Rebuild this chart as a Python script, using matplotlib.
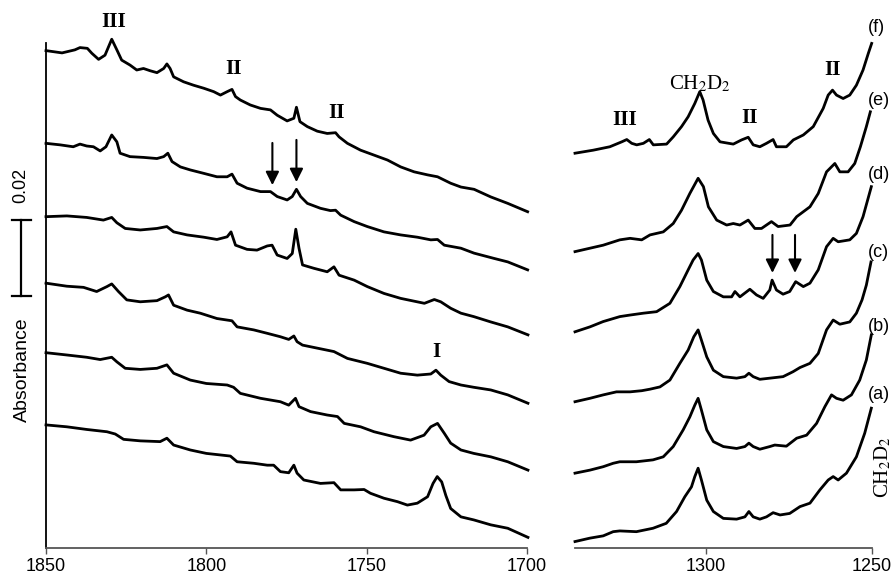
import matplotlib.pyplot as plt
import matplotlib.transforms as mtransforms

# === Config ===
plt.rcParams['font.family'] = ['Liberation Sans', 'DejaVu Sans']
plt.rcParams['mathtext.fontset'] = 'stix'
SERIF = ['Liberation Serif', 'DejaVu Serif']
LW = 2.0

# === Data (absorbance in units of 0.001, curves already stacked) ===
# left panel, 1850-1700 cm-1
lw_f = [1850, 1845, 1841, 1839.4, 1837.1, 1835.7, 1833.6, 1831.6, 1829.5, 1827.9, 1826.4, 1823.8, 1821.7,
        1819.6, 1817.5, 1815.4, 1813.3, 1812.3, 1811.3, 1810.2, 1807.1, 1804, 1800.8, 1797.7, 1795.6,
        1793.5, 1792, 1790.9, 1789.4, 1786.3, 1783.1, 1780, 1777.9, 1774.8, 1772.7, 1771.9, 1770.8,
        1768.5, 1765.4, 1762.3, 1759.7, 1758.6, 1756, 1751.9, 1747.7, 1743.5, 1739.4, 1735.2, 1731,
        1727.9, 1723.8, 1720.6, 1716.5, 1711.3, 1706, 1699.8]
la_f = [130.9, 130.3, 131.1, 131.7, 131.5, 130.2, 128.6, 129.7, 133.9, 131.1, 128.4, 127.1, 125.8,
        126.2, 125.6, 125.1, 126.2, 127.4, 126.2, 124.0, 122.7, 121.8, 121.0, 120.1, 119.2,
        120.1, 120.7, 118.8, 117.9, 116.6, 115.7, 115.3, 113.9, 112.4, 113.1, 116.0, 112.2,
        110.9, 109.7, 109.1, 109.3, 108.2, 106.5, 104.7, 103.4, 102.1, 100.3, 99.0, 98.2,
        97.7, 96.0, 95.0, 94.4, 92.4, 90.7, 88.5]

lw_e = [1850, 1845.6, 1841.5, 1839.4, 1837.3, 1835.2, 1833.1, 1831.3, 1829.5, 1827.9, 1826.9, 1823.8,
        1819.6, 1815.4, 1813.3, 1812, 1810.7, 1808.1, 1805, 1800.8, 1796.7, 1793.5, 1792, 1790.4,
        1787.3, 1783.1, 1780, 1777.9, 1774.8, 1773.2, 1771.9, 1770.6, 1768.5, 1764.4, 1761.3, 1759.7,
        1758.1, 1753.9, 1749.8, 1744.6, 1739.4, 1734.2, 1730, 1727.9, 1725.8, 1720.6, 1716.5, 1710.2,
        1706, 1699.8]
la_e = [106.5, 106.1, 105.6, 106.3, 105.8, 105.6, 104.5, 105.6, 108.7, 106.9, 103.9, 103.0,
        102.8, 102.5, 103.0, 103.9, 101.7, 100.3, 99.5, 98.6, 97.7, 97.7, 98.4, 96.0,
        94.7, 93.8, 93.8, 92.5, 91.6, 92.5, 94.4, 92.5, 90.7, 89.4, 88.8, 88.9,
        87.6, 85.9, 84.6, 83.2, 82.4, 81.8, 81.1, 81.2, 79.7, 78.9, 77.6, 76.2,
        75.3, 73.2]

lw_d = [1850, 1843.5, 1837.3, 1832.1, 1829.5, 1827.9, 1825.3, 1820.6, 1815.4, 1812.3, 1810.2, 1806,
        1800.8, 1796.7, 1793.5, 1792.3, 1790.9, 1787.3, 1784.2, 1781, 1779.5, 1777.9, 1774.8, 1773.2,
        1772.1, 1771.1, 1770, 1766.4, 1762.3, 1760.2, 1758.6, 1753.9, 1749.8, 1744.6, 1739.4, 1732,
        1728.9, 1726.9, 1723.8, 1720.6, 1716.6, 1711.3, 1706, 1699.7]
la_d = [87.2, 87.4, 87.0, 86.3, 87.0, 85.6, 84.1, 83.7, 84.1, 84.6, 83.2, 82.4,
        81.8, 81.2, 81.9, 83.2, 79.7, 78.6, 78.4, 79.5, 79.7, 77.1, 76.2, 77.5,
        83.9, 78.9, 74.5, 73.6, 72.7, 74.0, 71.8, 70.5, 68.8, 67.0, 65.7, 64.4,
        65.4, 64.8, 63.1, 61.8, 60.9, 59.5, 58.2, 56.1]

lw_c = [1850, 1843.5, 1838.3, 1834.2, 1831, 1829.5, 1827.4, 1824.8, 1820.6, 1815.4, 1812.8, 1811.8,
        1810.2, 1806, 1801.9, 1796.7, 1792, 1790.4, 1785.2, 1781, 1776.9, 1774.3, 1772.7, 1771.7,
        1770, 1765.4, 1760.2, 1756, 1749.8, 1744.6, 1739.4, 1734.2, 1730, 1728.4, 1726.9, 1724.3,
        1720.6, 1716.6, 1711.3, 1706, 1699.7]
la_c = [69.7, 68.9, 68.6, 67.5, 68.8, 69.5, 67.5, 65.3, 64.8, 65.1, 66.1, 66.6,
        63.9, 62.6, 61.8, 60.4, 59.8, 58.2, 57.4, 56.5, 55.6, 54.9, 55.8, 54.3,
        53.4, 52.6, 51.7, 49.9, 48.6, 47.3, 46.0, 45.5, 45.8, 46.8, 45.5, 43.8,
        42.9, 42.3, 41.6, 40.3, 38.1]

lw_b = [1850, 1843.5, 1837.3, 1833.1, 1829.5, 1827.9, 1825.3, 1820.6, 1815.4, 1812.3, 1810.2, 1805,
        1800, 1793.5, 1791.5, 1789.4, 1783.1, 1776.9, 1774.3, 1772.2, 1771.1, 1767.5, 1762.3, 1759.1,
        1757, 1751.9, 1747.7, 1741.5, 1736.3, 1732.1, 1730, 1727.9, 1725.8, 1723.8, 1720.6, 1716.6,
        1711.3, 1706, 1699.7]
la_b = [51.4, 50.8, 50.2, 49.6, 50.2, 49.0, 47.3, 47.0, 47.3, 48.2, 46.0, 44.2,
        43.3, 42.9, 42.3, 40.7, 39.4, 38.5, 37.6, 39.4, 37.2, 35.9, 35.0, 34.6,
        32.8, 31.9, 30.6, 29.3, 28.4, 29.7, 31.9, 32.8, 30.2, 27.6, 25.8, 24.9,
        24.0, 22.7, 20.5]

lw_a = [1850, 1843.5, 1837.3, 1831, 1828.4, 1825.8, 1820.6, 1814.4, 1812.3, 1810.2, 1805, 1800,
        1792.5, 1790.4, 1785.2, 1781, 1779, 1776.9, 1774.3, 1772.7, 1771.7, 1769.6, 1764.4, 1760.2,
        1758.1, 1753.9, 1750.8, 1748.8, 1744.6, 1740.4, 1737.3, 1734.2, 1731, 1729.3, 1728, 1726.6,
        1725.3, 1723.8, 1720.6, 1716.6, 1711.3, 1706, 1699.7]
la_a = [32.4, 31.9, 31.2, 30.6, 30.0, 28.6, 28.2, 28.0, 28.9, 27.1, 25.8, 24.9,
        24.2, 22.7, 22.3, 21.8, 21.8, 20.1, 19.8, 21.8, 19.7, 17.9, 17.0, 17.2,
        15.3, 15.3, 15.4, 14.4, 13.1, 12.2, 11.3, 11.8, 13.5, 17.0, 18.8, 17.4,
        13.8, 10.4, 8.2, 7.4, 6.1, 5.2, 2.8]

# right panel, 1340-1250 cm-1
rw_f = [1339.5, 1334, 1329, 1325.4, 1323.9, 1322.4, 1320.9, 1318.9, 1317.1, 1315.9, 1311.9, 1309.9,
        1307.4, 1305.4, 1303.4, 1301.9, 1300.9, 1299.4, 1297.8, 1295.8, 1291.8, 1289.3, 1287.3, 1285.8,
        1283.8, 1281.8, 1279.8, 1278.8, 1275.8, 1273.7, 1270.7, 1267.7, 1264.7, 1263.2, 1261.9, 1260.7,
        1258.7, 1256.7, 1254.7, 1252.7, 1251.1, 1250.1]
ra_f = [103.9, 104.7, 105.6, 106.9, 107.5, 106.5, 106.1, 106.5, 107.5, 106.1, 106.3, 108.2,
        110.9, 113.5, 117.0, 120.1, 117.9, 112.6, 109.1, 106.9, 106.3, 107.4, 108.1, 106.1,
        105.6, 106.5, 107.5, 105.6, 105.6, 107.4, 108.7, 110.9, 115.7, 119.2, 120.5, 119.2,
        118.3, 119.2, 121.8, 125.8, 130.2, 132.8]

rw_e = [1339.5, 1335, 1331, 1326, 1322.9, 1319.4, 1316.9, 1312.9, 1309.9, 1307.4, 1304.9, 1302.4,
        1300.8, 1299.3, 1296.8, 1293.8, 1291.8, 1289.8, 1287.3, 1285.3, 1283.3, 1280.3, 1278.3, 1274.7,
        1272.7, 1268.7, 1266.2, 1263.7, 1261.2, 1259.7, 1257.2, 1255.2, 1253.5, 1251.7, 1250.5]
ra_e = [78.0, 78.9, 79.7, 81.1, 81.5, 81.1, 82.4, 83.2, 85.4, 88.9, 93.3, 97.3,
        95.1, 89.8, 86.3, 85.0, 85.4, 85.0, 86.3, 84.1, 84.1, 85.9, 84.6, 85.0,
        87.2, 89.8, 93.3, 99.0, 101.2, 99.0, 99.0, 101.2, 105.6, 110.9, 114.8]

rw_d = [1339.5, 1335, 1331, 1326, 1323, 1318.9, 1314.9, 1310.9, 1307.9, 1305.4, 1303.9, 1302.4,
        1301.4, 1299.8, 1297.8, 1294.8, 1292.3, 1291.3, 1289.8, 1286.8, 1284.8, 1282.8, 1280.8, 1280.1,
        1278.8, 1276.8, 1274.8, 1273.0, 1270.7, 1268.7, 1266.2, 1263.7, 1261.7, 1260.2, 1256.7, 1254.7,
        1252.7, 1250.2]
ra_d = [56.9, 58.2, 59.6, 60.9, 61.3, 61.8, 62.2, 64.4, 68.8, 73.2, 75.8, 77.5,
        75.8, 70.5, 67.5, 66.1, 66.1, 67.5, 66.1, 68.1, 66.6, 65.7, 67.9, 70.5,
        67.9, 66.8, 67.5, 70.1, 68.8, 69.7, 73.2, 79.3, 81.5, 80.6, 81.1, 82.8,
        87.2, 95.1]

rw_c = [1339.5, 1335, 1331, 1327, 1322.9, 1319.4, 1316.9, 1313.9, 1310.9, 1307.9, 1305.4, 1303.7,
        1302.4, 1301.4, 1299.8, 1297.8, 1294.8, 1290.8, 1288.3, 1287.1, 1285.8, 1283.8, 1280.8, 1276.8,
        1273.8, 1271.7, 1268.7, 1266.2, 1263.7, 1261.7, 1259.7, 1256.7, 1254.7, 1253, 1251.7, 1250.3]
ra_c = [38.5, 39.4, 40.3, 41.1, 41.1, 41.4, 41.8, 42.4, 44.2, 48.6, 52.1, 55.6,
        57.4, 54.7, 50.3, 46.8, 45.1, 44.7, 45.1, 46.0, 45.1, 44.4, 44.7, 45.1,
        46.4, 47.5, 48.6, 51.2, 57.4, 60.0, 58.9, 59.5, 61.8, 65.3, 69.2, 75.3]

rw_b = [1339.5, 1335, 1331, 1328, 1326, 1321, 1316, 1312.9, 1309.9, 1306.9, 1304.9, 1303.4,
        1302.4, 1301.4, 1299.8, 1297.8, 1294.8, 1290.8, 1288.3, 1287.1, 1285.8, 1283.8, 1280.8, 1279.3,
        1275.8, 1272.7, 1269.7, 1266.7, 1264.2, 1262.2, 1260.7, 1258.7, 1256.2, 1253.7, 1251.7, 1250.2]
ra_b = [19.7, 20.5, 21.4, 22.3, 22.7, 22.7, 23.2, 24.0, 26.7, 31.1, 34.5, 37.6,
        39.4, 36.3, 31.1, 28.0, 26.7, 26.2, 26.7, 27.6, 26.7, 26.0, 26.7, 27.1,
        26.8, 28.9, 29.7, 32.8, 37.2, 40.3, 39.4, 38.9, 40.3, 44.2, 49.5, 56.1]

rw_a = [1339.5, 1335, 1331, 1328, 1326, 1321, 1316, 1312, 1308.9, 1306.4, 1304.4, 1303.4,
        1302.4, 1301.4, 1299.8, 1297.8, 1294.8, 1290.8, 1288.3, 1287.1, 1285.8, 1283.8, 1281.8, 1279.8,
        1277.7, 1274.8, 1271.7, 1268.7, 1265.7, 1263.2, 1261.7, 1260.2, 1257.7, 1254.7, 1252.2, 1250.2]
ra_a = [1.7, 2.6, 3.2, 4.3, 4.5, 4.3, 5.2, 6.5, 9.6, 13.5, 16.1, 18.8,
        21.0, 17.9, 12.6, 9.6, 7.8, 7.6, 8.2, 9.6, 8.2, 7.6, 8.2, 9.3,
        8.7, 9.1, 10.9, 11.8, 15.3, 17.9, 18.8, 17.9, 19.7, 24.0, 30.2, 36.8]

left_curves = [(lw_f, la_f), (lw_e, la_e), (lw_d, la_d), (lw_c, la_c), (lw_b, la_b), (lw_a, la_a)]
right_curves = [(rw_f, ra_f), (rw_e, ra_e), (rw_d, ra_d), (rw_c, ra_c), (rw_b, ra_b), (rw_a, ra_a)]
curve_labels = ['(f)', '(e)', '(d)', '(c)', '(b)', '(a)']
label_y = [137.1, 117.9, 98.4, 77.9, 58.2, 40.5]
left_ticks = [1850, 1800, 1750, 1700]
right_ticks = [1300, 1250]

# === Figure ===
fig = plt.figure(figsize=(8.94, 5.73), dpi=100)
ax1 = fig.add_axes([0.05145, 0.0436, 0.53803, 0.9284])
ax2 = fig.add_axes([0.64318, 0.0436, 0.33221, 0.9284])

for wn, ab in left_curves:
    ax1.plot(wn, ab, color='black', lw=LW, solid_joinstyle='round', clip_on=False)
for wn, ab in right_curves:
    ax2.plot(wn, ab, color='black', lw=LW, solid_joinstyle='round', clip_on=False)

ax1.set_xlim(1850, 1700)
ax2.set_xlim(1339.5, 1250)
for ax in (ax1, ax2):
    ax.set_ylim(0, 140)
    ax.set_yticks([])
    ax.spines['top'].set_visible(False)
    ax.spines['right'].set_visible(False)
    ax.spines['bottom'].set_color('#555555')
    ax.spines['bottom'].set_linewidth(1.3)
    ax.tick_params(axis='x', direction='out', length=4, width=1.0, color='#555555',
                   labelsize=13, pad=3)
ax2.spines['left'].set_visible(False)
ax1.spines['left'].set_bounds(0, 132.9)
ax1.spines['left'].set_linewidth(1.3)
ax1.set_xticks(left_ticks)
ax2.set_xticks(right_ticks)

# === Scale bar and axis title ===
tr = mtransforms.blended_transform_factory(ax1.transAxes, ax1.transData)
bar_lo, bar_hi = 66.3, 86.3  # 0.02 absorbance
ax1.plot([-0.052, -0.052], [bar_lo, bar_hi], color='black', lw=1.6, transform=tr, clip_on=False)
for yy in (bar_lo, bar_hi):
    ax1.plot([-0.071, -0.031], [yy, yy], color='black', lw=1.6, transform=tr, clip_on=False)
ax1.text(-0.052, 95.5, '0.02', rotation=90, ha='center', va='center', fontsize=13, transform=tr)
ax1.text(-0.049, 46.8, 'Absorbance', rotation=90, ha='center', va='center', fontsize=14, transform=tr)

# === Annotations ===
bold = dict(family=SERIF, fontweight='bold', fontsize=15.5, ha='center', va='center')
ax1.text(1828.8, 138.4, 'III', clip_on=False, **bold)
ax1.text(1791.6, 126.1, 'II', **bold)
ax1.text(1759.4, 114.5, 'II', **bold)
ax1.text(1728.1, 51.6, 'I', **bold)
ax2.text(1324.4, 112.6, 'III', **bold)
ax2.text(1286.8, 113.2, 'II', **bold)
ax2.text(1261.8, 125.8, 'II', **bold)
ax2.text(1301.9, 122.1, 'CH$_2$D$_2$', family=SERIF, fontsize=15, ha='center', va='center')
ax2.text(1246.7, 21.3, 'CH$_2$D$_2$', family=SERIF, fontsize=15, rotation=90,
         ha='center', va='center', clip_on=False)

arrow = dict(arrowstyle='-|>', color='black', lw=1.5, mutation_scale=20, shrinkA=0, shrinkB=0)
for x, y0, y1 in [(1779.4, 106.6, 95.5), (1771.9, 107.4, 96.3)]:
    ax1.annotate('', xy=(x, y1), xytext=(x, y0), arrowprops=arrow)
for x in (1280.0, 1273.2):
    ax2.annotate('', xy=(x, 72.4), xytext=(x, 82.4), arrowprops=arrow)

for lab, yy in zip(curve_labels, label_y):
    ax2.text(1251.2, yy, lab, fontsize=13, ha='left', va='center', clip_on=False)

plt.savefig('out.png', dpi=100)
plt.close()
